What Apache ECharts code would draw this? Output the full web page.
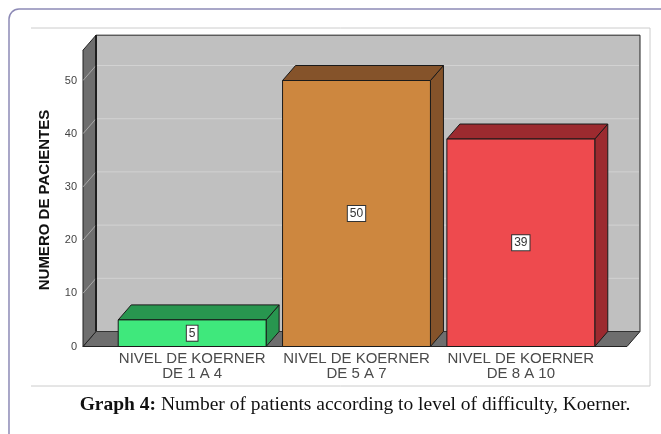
<!DOCTYPE html>
<html>
<head>
<meta charset="utf-8">
<script src="https://cdn.jsdelivr.net/npm/echarts@6/dist/echarts.min.js"></script>
<style>
  html, body { margin: 0; padding: 0; background: #ffffff; }
  #chart { width: 661px; height: 434px; }
</style>
</head>
<body>
<div id="chart"></div>
<script>
// Patients grouped by Koerner difficulty level
const categories = ['NIVEL DE KOERNER\nDE 1 A 4', 'NIVEL DE KOERNER\nDE 5 A 7', 'NIVEL DE KOERNER\nDE 8 A 10'];
const patients = [5, 50, 39];
const yTicks = [0, 10, 20, 30, 40, 50];

// front / top / side shades for each box
const frontColors = ['#3fe87c', '#cd873f', '#ee4a4e'];
const shadeColors = ['#28964f', '#85532a', '#9c2a2f'];

// 3D depth offset of the boxes and the chart walls
const DX = 13, DY = -15;
const WALL_TOP = 55.7;

const chart = echarts.init(document.getElementById('chart'));

function renderWalls(params, api) {
  const p0 = api.coord([0, 0]);
  const bw = api.size([1, 0])[0];
  const axisLeft = p0[0] - bw / 2;
  const axisRight = axisLeft + bw * categories.length;
  const fl = axisLeft - 27, fr = axisRight + 24, fy = p0[1];
  const ft = api.coord([0, WALL_TOP])[1];
  const children = [];
  // back wall
  children.push({ type: 'polygon', shape: { points: [[fl + DX, ft + DY], [fr + DX, ft + DY], [fr + DX, fy + DY], [fl + DX, fy + DY]] },
    style: { fill: '#c0c0c0', stroke: '#222', lineWidth: 1 } });
  // floor
  children.push({ type: 'polygon', shape: { points: [[fl, fy], [fr, fy], [fr + DX, fy + DY], [fl + DX, fy + DY]] },
    style: { fill: '#6e6e6e', stroke: '#222', lineWidth: 1 } });
  // left wall
  children.push({ type: 'polygon', shape: { points: [[fl, fy], [fl, ft], [fl + DX, ft + DY], [fl + DX, fy + DY]] },
    style: { fill: '#6e6e6e', stroke: '#222', lineWidth: 1 } });
  // grid lines on the back wall and across the left wall
  yTicks.slice(1).forEach(function (v) {
    const y = api.coord([0, v])[1];
    children.push({ type: 'line', shape: { x1: fl + DX + 1, y1: y + DY, x2: fr + DX - 1, y2: y + DY },
      style: { stroke: '#d2d2d2', lineWidth: 1 } });
    children.push({ type: 'line', shape: { x1: fl, y1: y, x2: fl + DX, y2: y + DY },
      style: { stroke: '#a8a8a8', lineWidth: 1 } });
  });
  // dark inner edge of the back wall corner
  children.push({ type: 'line', shape: { x1: fl + DX, y1: ft + DY, x2: fl + DX, y2: fy + DY }, style: { stroke: '#111', lineWidth: 1.5 } });
  children.push({ type: 'line', shape: { x1: fl + DX, y1: fy + DY, x2: fr + DX, y2: fy + DY }, style: { stroke: '#333', lineWidth: 1 } });
  return { type: 'group', children: children };
}

function renderBox(params, api) {
  const idx = api.value(0);
  const v = api.value(1);
  const top = api.coord([idx, v]);
  const base = api.coord([idx, 0]);
  const bw = api.size([1, 0])[0] * 0.9;
  const xl = top[0] - bw / 2, xr = top[0] + bw / 2;
  const yt = top[1], yb = base[1];
  const front = frontColors[idx], shade = shadeColors[idx];
  const edge = { stroke: '#1a1a1a', lineWidth: 1 };
  return {
    type: 'group',
    children: [
      { type: 'polygon', shape: { points: [[xr, yt], [xr + DX, yt + DY], [xr + DX, yb + DY], [xr, yb]] },
        style: Object.assign({ fill: shade }, edge) },
      { type: 'polygon', shape: { points: [[xl, yt], [xl + DX, yt + DY], [xr + DX, yt + DY], [xr, yt]] },
        style: Object.assign({ fill: shade }, edge) },
      { type: 'rect', shape: { x: xl, y: yt, width: bw, height: yb - yt },
        style: Object.assign({ fill: front }, edge) },
      { type: 'text', x: top[0], y: (yt + yb) / 2,
        style: { text: String(v), align: 'center', verticalAlign: 'middle',
          fontFamily: '"Liberation Sans Narrow", "Liberation Sans", Arial, sans-serif', fontSize: 12,
          fill: '#333', backgroundColor: '#ffffff', borderColor: '#333', borderWidth: 1, padding: [2, 2, 1, 2] } }
    ]
  };
}

chart.setOption({
  animation: false,
  backgroundColor: '#ffffff',
  grid: { left: 110, width: 493, top: 53.9, height: 292.6 },
  xAxis: {
    type: 'category',
    data: categories,
    axisLine: { show: false },
    axisTick: { show: false },
    axisLabel: { interval: 0, margin: 5, fontSize: 15, lineHeight: 15, color: '#4a4a4a',
      fontFamily: '"Liberation Sans", Arial, sans-serif' }
  },
  yAxis: {
    type: 'value',
    min: 0, max: 55, interval: 10,
    axisLine: { show: false },
    axisTick: { show: false },
    splitLine: { show: false },
    axisLabel: { margin: 33, showMaxLabel: false, fontSize: 11, color: '#444',
      fontFamily: '"Liberation Sans Narrow", "Liberation Sans", Arial, sans-serif' }
  },
  series: [
    { type: 'custom', renderItem: renderWalls, data: [[0, 0]], z: 1, silent: true },
    { type: 'custom', renderItem: renderBox, data: patients.map(function (v, i) { return [i, v]; }), z: 2,
      encode: { x: 0, y: 1 } }
  ],
  graphic: [
    { type: 'rect', shape: { x: 9, y: 9, width: 700, height: 460, r: 10 },
      style: { fill: 'none', stroke: '#8d8ab6', lineWidth: 1.5 }, z: 10 },
    { type: 'polyline', shape: { points: [[31, 28], [650, 28], [650, 386], [31, 386]] },
      style: { fill: 'none', stroke: '#cccccc', lineWidth: 1 }, z: 10 },
    { type: 'text', x: 45, y: 200, rotation: Math.PI / 2,
      style: { text: 'NUMERO DE PACIENTES', align: 'center', verticalAlign: 'middle',
        fontFamily: '"Liberation Sans", Arial, sans-serif', fontSize: 15, fontWeight: 'bold', fill: '#111' }, z: 10 },
    { type: 'text', x: 355, y: 405,
      style: { text: '{b|Graph 4:} Number of patients according to level of difficulty, Koerner.',
        align: 'center', verticalAlign: 'middle',
        fontFamily: '"Liberation Serif", "Times New Roman", serif', fontSize: 19.5, fill: '#111',
        rich: { b: { fontWeight: 'bold', fontFamily: '"Liberation Serif", "Times New Roman", serif', fontSize: 19.5, fill: '#111' } } }, z: 10 }
  ]
});
</script>
</body>
</html>
